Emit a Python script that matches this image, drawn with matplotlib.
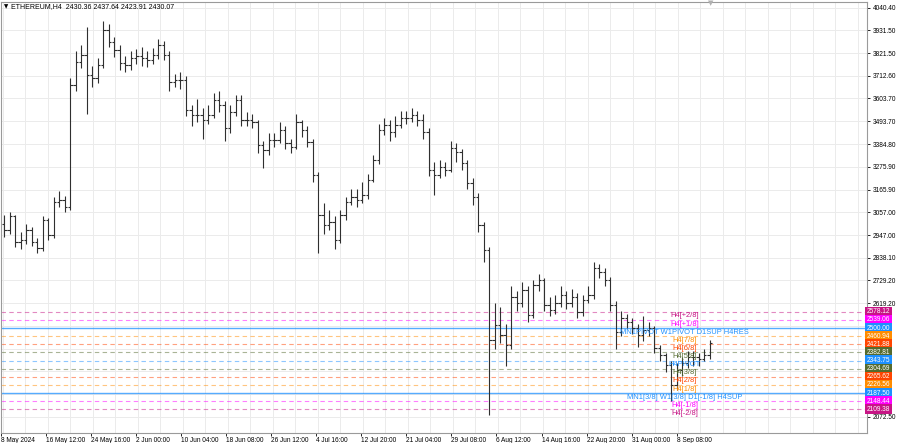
import numpy as np
import matplotlib
matplotlib.use('Agg')
import matplotlib.pyplot as plt
import matplotlib.transforms as mtransforms

# Daily summary of the H4 ETHEREUM chart (8 May - 12 Sep 2024)
first_open = 3000
closes = [2971, 3038, 2913, 2923, 2971, 2913, 2884, 3019, 2947, 3107,
          3116, 3083, 3669, 3779, 3813, 3717, 3703, 3765, 3933, 3875,
          3837, 3775, 3765, 3798, 3808, 3798, 3789, 3813, 3861, 3813,
          3683, 3693, 3693, 3549, 3524, 3524, 3500, 3524, 3597, 3572,
          3462, 3539, 3597, 3500, 3500, 3491, 3380, 3356, 3404, 3404,
          3452, 3389, 3370, 3491, 3452, 3394, 3236, 3043, 2995, 3010,
          2923, 3043, 3107, 3131, 3116, 3140, 3212, 3308, 3452, 3476,
          3442, 3476, 3510, 3510, 3524, 3500, 3442, 3260, 3236, 3274,
          3260, 3366, 3346, 3294, 3197, 3130, 2995, 2875, 2442, 2515,
          2466, 2418, 2649, 2620, 2683, 2563, 2707, 2731, 2611, 2587,
          2620, 2659, 2620, 2649, 2577, 2635, 2659, 2789, 2770, 2731,
          2611, 2481, 2548, 2529, 2500, 2466, 2490, 2500, 2404, 2370,
          2322, 2226, 2298, 2331, 2360, 2360, 2350, 2370, 2430]
highs = [3045, 3060, 3045, 2960, 3000, 2985, 2935, 3040, 3030, 3130,
         3160, 3135, 3700, 3830, 3860, 3945, 3760, 3800, 3975, 3960,
         3900, 3860, 3810, 3830, 3840, 3850, 3830, 3845, 3890, 3880,
         3830, 3720, 3730, 3710, 3570, 3600, 3560, 3570, 3630, 3640,
         3590, 3570, 3620, 3620, 3540, 3530, 3500, 3400, 3440, 3440,
         3490, 3470, 3410, 3530, 3500, 3470, 3410, 3250, 3100, 3070,
         3040, 3070, 3130, 3170, 3170, 3200, 3240, 3330, 3480, 3510,
         3500, 3520, 3545, 3545, 3560, 3545, 3530, 3460, 3300, 3310,
         3300, 3400, 3390, 3360, 3310, 3220, 3150, 3010, 2890, 2620,
         2600, 2520, 2700, 2680, 2720, 2700, 2730, 2760, 2740, 2650,
         2660, 2700, 2680, 2690, 2670, 2660, 2700, 2820, 2810, 2790,
         2745, 2630, 2580, 2570, 2550, 2520, 2560, 2530, 2510, 2420,
         2380, 2340, 2330, 2360, 2390, 2390, 2380, 2400, 2445]
lows = [2940, 2950, 2890, 2880, 2905, 2895, 2860, 2870, 2925, 2935,
        3080, 3060, 3070, 3640, 3750, 3530, 3660, 3680, 3750, 3850,
        3805, 3740, 3730, 3740, 3770, 3760, 3755, 3770, 3795, 3790,
        3640, 3660, 3650, 3520, 3470, 3490, 3410, 3480, 3510, 3540,
        3400, 3440, 3520, 3470, 3470, 3460, 3340, 3270, 3330, 3370,
        3390, 3360, 3340, 3360, 3420, 3370, 3200, 2860, 2950, 2970,
        2880, 2910, 3020, 3090, 3080, 3100, 3120, 3200, 3290, 3430,
        3400, 3420, 3460, 3480, 3490, 3470, 3410, 3230, 3140, 3220,
        3230, 3250, 3300, 3260, 3170, 3090, 2960, 2820, 2080, 2400,
        2430, 2320, 2400, 2580, 2600, 2530, 2550, 2680, 2580, 2560,
        2570, 2600, 2590, 2600, 2550, 2560, 2620, 2640, 2740, 2700,
        2580, 2400, 2460, 2500, 2470, 2410, 2440, 2460, 2380, 2340,
        2290, 2150, 2200, 2270, 2310, 2320, 2320, 2340, 2350]

# axis labels
time_labels = ['8 May 2024', '16 May 12:00', '24 May 16:00', '2 Jun 00:00',
               '10 Jun 04:00', '18 Jun 08:00', '26 Jun 12:00', '4 Jul 16:00',
               '12 Jul 20:00', '21 Jul 04:00', '29 Jul 08:00', '6 Aug 12:00',
               '14 Aug 16:00', '22 Aug 20:00', '31 Aug 00:00', '8 Sep 08:00']
price_ticks = [4040.40, 3931.50, 3821.50, 3712.60, 3603.70, 3493.70, 3384.80,
               3275.90, 3165.90, 3057.00, 2947.00, 2838.10, 2729.20, 2619.20,
               2072.50]

# Murrey math / pivot levels
level_prices = [2578.12, 2539.06, 2500.00, 2460.94, 2421.88, 2382.81, 2343.75,
                2304.69, 2265.62, 2226.56, 2187.50, 2148.44, 2109.38]
level_names = ['H4[+2/8]', 'H4[+1/8]', 'MN1PIVOT W1PIVOT D1SUP H4RES', 'H4[7/8]',
               'H4[6/8]', 'H4[5/8]', 'H4PIVOT', 'H4[3/8]', 'H4[2/8]', 'H4[1/8]',
               'MN1[3/8] W1[3/8] D1[-1/8] H4SUP', 'H4[-1/8]', 'H4[-2/8]']
level_colors = ['#c71585', '#ff00ff', '#1e90ff', '#ff8c00', '#ff4500', '#556b2f',
                '#1e90ff', '#556b2f', '#ff4500', '#ff8c00', '#1e90ff', '#ff00ff',
                '#c71585']
level_solid = [False, False, True, False, False, False, False,
               False, False, False, True, False, False]

plt.rcParams['font.family'] = ['Liberation Sans', 'DejaVu Sans']

fig = plt.figure(figsize=(9, 4.43), dpi=100)
ax = fig.add_axes([0.001, 0.0226, 0.962, 0.973])

# x in H4 bar units, one summary bar per 6 H4 bars
n = len(closes)
opens = [first_open] + closes[:-1]
x = np.arange(n) * 6 + 3
ax.vlines(x, lows, highs, color='#2f2f2f', linewidth=0.8, zorder=3)
ax.hlines(opens, x - 2.6, x, color='#2f2f2f', linewidth=0.8, zorder=3)
ax.hlines(closes, x, x + 2.6, color='#2f2f2f', linewidth=0.8, zorder=3)

ax.set_xlim(-0.5, 942)
ax.set_ylim(1995.6, 4067.8)

# grid
tick_pos = np.arange(len(time_labels)) * 49
for p in np.arange(0, 942, 24.5):
    ax.axvline(p + 1.5, color='#ebebeb', linewidth=0.7, zorder=0)
for p in price_ticks + [2510.30, 2401.40, 2291.40, 2182.50]:
    ax.axhline(p, color='#ebebeb', linewidth=0.7, zorder=0)

# levels
for p, name, c, solid in zip(level_prices, level_names, level_colors, level_solid):
    if solid:
        ax.axhline(p, color=c, linewidth=1.0, alpha=0.75, zorder=2)
    else:
        ax.axhline(p, color=c, linewidth=0.8, alpha=0.5, linestyle=(0, (4, 3)), zorder=2)
    ax.text(744, p - 3, name, color=c, fontsize=5.4, ha='center', va='top', zorder=4)

# axes
ax.yaxis.tick_right()
ax.set_yticks(price_ticks)
ax.set_yticklabels(['%.2f' % v for v in price_ticks], fontsize=4.7)
ax.tick_params(axis='y', length=2.5, pad=2, colors='#000000', width=0.6)
ax.set_xticks(tick_pos)
ax.set_xticklabels(time_labels, fontsize=4.7, ha='left')
ax.tick_params(axis='x', length=2, pad=1, width=0.6)
for s in ax.spines.values():
    s.set_color('#9a9a9a')
    s.set_linewidth(0.8)

trans = mtransforms.blended_transform_factory(ax.transAxes, ax.transData)
for p, c in zip(level_prices, level_colors):
    ax.text(1.0, p, '%.2f' % p, transform=trans, fontsize=4.7, color='white',
            ha='left', va='center', zorder=5, clip_on=False,
            bbox=dict(boxstyle='square,pad=0.25', fc=c, ec='none'))

# header
fig.text(0.004, 0.985, '\u25bc', fontsize=4, va='center', ha='left', family='DejaVu Sans')
fig.text(0.012, 0.985, 'ETHEREUM,H4  2430.36 2437.64 2423.91 2430.07',
         fontsize=5, va='center', ha='left')
fig.text(0.79, 0.993, '\u25bc', fontsize=5, color='#b0b0b0', va='center', ha='center',
         family='DejaVu Sans')

fig.savefig('out.png', dpi=100)
